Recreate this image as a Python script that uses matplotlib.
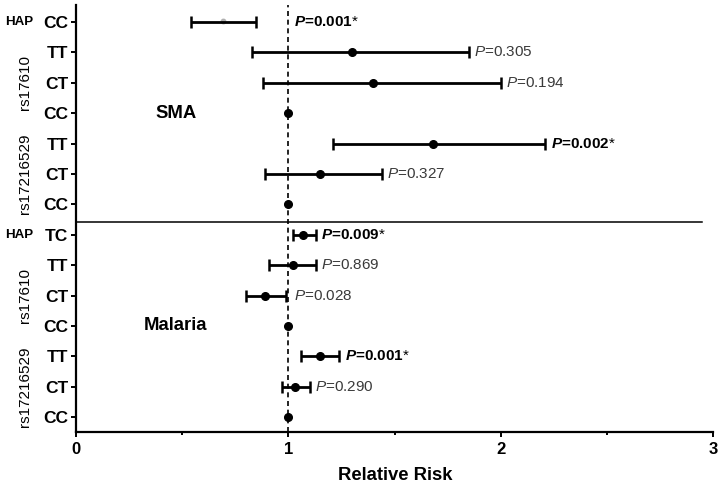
import matplotlib
matplotlib.use("Agg")
import matplotlib.pyplot as plt
import matplotlib.transforms as mtransforms
from matplotlib.ticker import MultipleLocator

plt.rcParams['font.family'] = ['Liberation Sans', 'DejaVu Sans']
plt.rcParams['mathtext.fontset'] = 'custom'
plt.rcParams['mathtext.rm'] = 'Liberation Sans'
plt.rcParams['mathtext.it'] = 'Liberation Sans:italic'
plt.rcParams['mathtext.bf'] = 'Liberation Sans:bold'
plt.rcParams['mathtext.bfit'] = 'Liberation Sans:bold:italic'

# ---- data (top row first) ----
genotypes = ["CC", "TT", "CT", "CC", "TT", "CT", "CC",
             "TC", "TT", "CT", "CC", "TT", "CT", "CC"]
rel_risk = [0.69, 1.30, 1.40, 1.00, 1.68, 1.15, 1.00,
            1.07, 1.02, 0.89, 1.00, 1.15, 1.03, 1.00]
ci_low = [0.54, 0.83, 0.88, 1.00, 1.21, 0.89, 1.00,
          1.02, 0.91, 0.80, 1.00, 1.06, 0.97, 1.00]
ci_high = [0.85, 1.85, 2.00, 1.00, 2.21, 1.44, 1.00,
           1.13, 1.13, 0.99, 1.00, 1.24, 1.10, 1.00]
p_values = ["0.001", "0.305", "0.194", "", "0.002", "0.327", "",
            "0.009", "0.869", "0.028", "", "0.001", "0.290", ""]
significant = [True, False, False, False, True, False, False,
               True, False, False, False, True, False, False]
groups = [("HAP", 0, 0), ("rs17610", 1, 3), ("rs17216529", 4, 6),
          ("HAP", 7, 7), ("rs17610", 8, 10), ("rs17216529", 11, 13)]
panels = [("SMA", 3), ("Malaria", 10)]
x_ticks = [0, 1, 2, 3]

n = len(genotypes)
ys = [n - 1 - i for i in range(n)]

fig = plt.figure(figsize=(7.26, 4.87), dpi=100)
ax = fig.add_axes([76 / 726, 1 - 432 / 487, (713 - 76) / 726, (432 - 5) / 487])

ax.axvline(1.0, color='black', lw=1.2, ls=(0, (3, 2.2)), zorder=1)

for i in range(n):
    y = ys[i]
    if ci_high[i] > ci_low[i]:
        ax.errorbar([rel_risk[i]], [y],
                    xerr=[[rel_risk[i] - ci_low[i]], [ci_high[i] - rel_risk[i]]],
                    fmt='none', ecolor='black', elinewidth=2.0,
                    capsize=4.0, capthick=1.8, zorder=3)
    if i == 0:
        ax.plot(rel_risk[i], y + 0.04, 'o', ms=3.2, color='#b0b0b0',
                mec='#b0b0b0', zorder=2)
    else:
        ax.plot(rel_risk[i], y, 'o', ms=5.5, color='black', zorder=4)
    if p_values[i]:
        xl = max(ci_high[i], 1.0) + 0.025
        if significant[i]:
            ax.text(xl, y, r"$\mathbfit{P}$=" + p_values[i] + r"$\mathrm{*}$",
                    fontsize=11, fontweight='bold', color='black',
                    va='center', ha='left')
        else:
            ax.text(xl, y, r"$\mathit{P}$=" + p_values[i],
                    fontsize=11, color='#3a3a3a', va='center', ha='left')

# separator between the two panels
sep_y = ys[6] - 0.57
ax.plot([0, 2.95], [sep_y, sep_y], color='black', lw=1.1, zorder=2)

for name, row in panels:
    ax.text(0.47, ys[row], name, fontsize=13.3, fontweight='bold',
            ha='center', va='center')

ax.set_xlim(0, 3)
ax.set_ylim(-0.49, n - 1 + 0.56)
ax.set_yticks(ys)
ax.set_yticklabels(genotypes, fontsize=12.5, fontweight='bold')
ax.set_xticks(x_ticks)
ax.set_xticklabels([str(t) for t in x_ticks], fontsize=12, fontweight='bold')
ax.xaxis.set_minor_locator(MultipleLocator(0.5))

for s in ['top', 'right']:
    ax.spines[s].set_visible(False)
for s in ['left', 'bottom']:
    ax.spines[s].set_linewidth(1.6)
ax.tick_params(axis='y', length=3.6, width=1.4, pad=2)
ax.tick_params(axis='x', which='major', length=3.6, width=1.4, pad=3.5)
ax.tick_params(axis='x', which='minor', length=2.2, width=1.4)

trans = mtransforms.blended_transform_factory(fig.transFigure, ax.transData)
for name, a, b in groups:
    yc = (ys[a] + ys[b]) / 2
    if name == "HAP":
        ax.text(19 / 726, yc, name, transform=trans, fontsize=9.6,
                fontweight='bold', ha='center', va='center')
    else:
        ax.text(25 / 726, yc, name, transform=trans, fontsize=11,
                rotation=90, ha='center', va='center')

fig.text(395 / 726, 1 - 476 / 487, "Relative Risk", fontsize=13.3,
         fontweight='bold', ha='center', va='center')

fig.savefig("out.png", dpi=100)
